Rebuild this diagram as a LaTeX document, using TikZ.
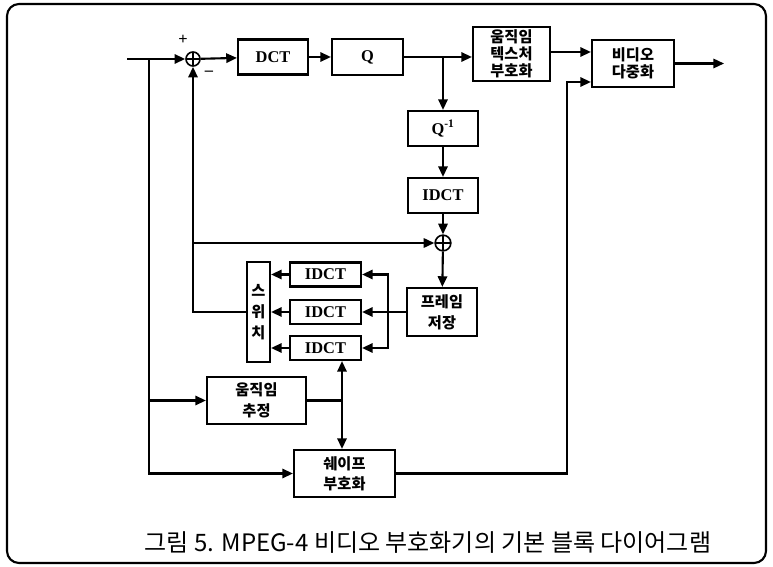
\documentclass[tikz,border=0pt]{standalone}
\usepackage{fontspec}
\setmainfont{Liberation Serif}
\newfontfamily\kr{Noto Sans CJK KR}
\usetikzlibrary{arrows.meta, positioning, calc}

\begin{document}
\begin{tikzpicture}[
    x=0.03cm, y=-0.03cm,
    box/.style={rectangle, draw, line width=1.8pt, inner sep=0pt, align=center, font=\fontsize{14}{16}\selectfont\bfseries},
    kbox/.style={box, font=\kr\bfseries\fontsize{13}{17}\selectfont},
    sum/.style={circle, draw, line width=1.4pt, inner sep=0pt, minimum size=0.42cm,
        path picture={\draw[line width=1.4pt] (path picture bounding box.north) -- (path picture bounding box.south)
            (path picture bounding box.west) -- (path picture bounding box.east);}},
    arrow/.style={-{Triangle[length=3.2mm,width=2.8mm]}, line width=1.8pt},
    line/.style={line width=1.8pt}
]
\useasboundingbox (0,0) rectangle (773,567);
\draw[line width=1.8pt, rounded corners=0.36cm] (7,4) rectangle (766,563);

% forward path
\node[sum] (sum1) at (193,59) {};
\node[box, minimum width=2.1cm, minimum height=1.05cm] (dct) at (273,57) {DCT};
\node[box, minimum width=2.13cm, minimum height=1.08cm] (quant) at (367.5,57) {Q};
\node[kbox, minimum width=2.31cm, minimum height=1.62cm, font=\kr\bfseries\fontsize{13}{14.5}\selectfont] (tex) at (511.5,54) {움직임\\텍스처\\부호화};
\node[kbox, minimum width=2.46cm, minimum height=1.41cm, font=\kr\bfseries\fontsize{13}{15}\selectfont] (mux) at (633,63.5) {비디오\\다중화};
\node[font=\bfseries\fontsize{14}{14}\selectfont] (plus) at (183,40) {+};
\node[font=\bfseries\fontsize{14}{14}\selectfont] (minus) at (209,73) {--};

% reconstruction
\node[box, minimum width=2.1cm, minimum height=1.05cm] (qinv) at (443,128.5) {Q\textsuperscript{-1}};
\node[box, minimum width=2.1cm, minimum height=1.05cm] (idct) at (443,195.5) {IDCT};
\node[sum, minimum size=0.47cm] (sum2) at (443,243) {};
\node[kbox, minimum width=2.1cm, minimum height=1.44cm, font=\kr\bfseries\fontsize{13}{18}\selectfont] (mem) at (442,312) {프레임\\저장};

% prediction
\node[box, minimum width=2.13cm, minimum height=0.72cm] (idctA) at (325.5,274.5) {IDCT};
\node[box, minimum width=2.13cm, minimum height=0.72cm] (idctB) at (325.5,312) {IDCT};
\node[box, minimum width=2.13cm, minimum height=0.72cm] (idctC) at (325.5,348) {IDCT};
\node[kbox, minimum width=0.69cm, minimum height=3cm, font=\kr\bfseries\fontsize{13}{18}\selectfont] (sw) at (258.5,312) {스\\위\\치};
\node[kbox, minimum width=2.97cm, minimum height=1.41cm, font=\kr\bfseries\fontsize{13}{18}\selectfont] (motion) at (256.5,400.5) {움직임\\추정};
\node[kbox, minimum width=3.03cm, minimum height=1.41cm] (shape) at (344.5,473.5) {쉐이프\\부호화};

\coordinate (in) at (127,59);
\coordinate (branch) at (149,59);
\coordinate (out) at ($(mux.east)+(49,0)$);
\coordinate (muxin1) at ($(mux.west)+(0,-11.5)$);
\coordinate (muxin2) at ($(mux.west)+(0,18.5)$);
\coordinate (mb) at (388,312);
\coordinate (mv) at (342,400.5);

\draw[arrow] (in) -- (sum1);
\draw[arrow] (sum1) -- (dct);
\draw[arrow] (dct) -- (quant);
\draw[arrow] (quant) -- (quant -| tex.west);
\draw[arrow] (quant -| qinv) -- (qinv);
\draw[arrow] (qinv) -- (idct);
\draw[arrow] (idct) -- (sum2);
\draw[arrow] (sum2) -- (mem);
\draw[arrow] (tex.east |- muxin1) -- (muxin1);
\draw[arrow] (mux) -- (out);

\draw[arrow] (branch) |- (motion.west);
\draw[arrow] (branch) |- (shape.west);
\draw[arrow] (sw.west) -| (sum1.south);
\draw[arrow] (sum1 |- sum2) -- (sum2);

\draw[arrow] (mem) -- (idctB);
\draw[arrow] (mb) |- (idctA);
\draw[arrow] (mb) |- (idctC);
\draw[arrow] (idctA) -- (idctA -| sw.east);
\draw[arrow] (idctB) -- (idctB -| sw.east);
\draw[arrow] (idctC) -- (idctC -| sw.east);

\draw[line] (motion.east) -- (mv);
\draw[arrow] (mv) -- (mv |- idctC.south);
\draw[arrow] (mv) -- (mv |- shape.north);
\draw[arrow] (shape.east) -| ([xshift=-0.72cm]muxin2) -- (muxin2);

\node (caption) at (428,543) {\kr\fontsize{20.5}{23}\selectfont 그림 5. MPEG-4 비디오 부호화기의 기본 블록 다이어그램};

\end{tikzpicture}
\end{document}
